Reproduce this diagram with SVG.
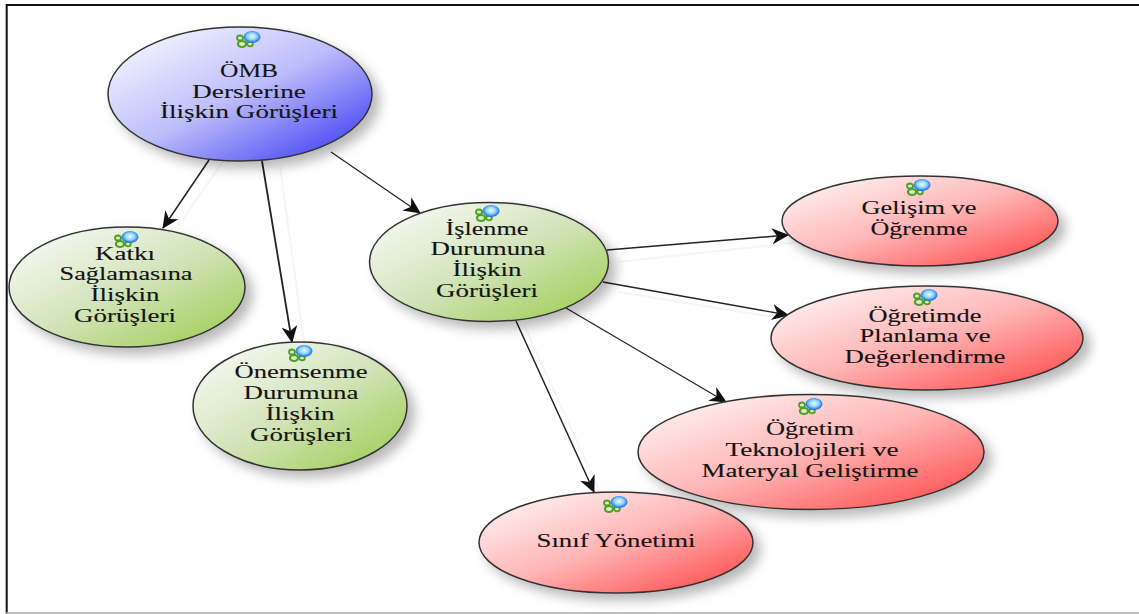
<svg xmlns="http://www.w3.org/2000/svg" width="1139" height="614" viewBox="0 0 1139 614">
<style>
text{font-family:"Liberation Serif","Times New Roman",serif;font-size:18px;fill:#141414;text-anchor:middle;stroke:#141414;stroke-width:.1}
.n{stroke:#333;stroke-width:1.5}
.c{stroke:#222;fill:none;marker-end:url(#a)}
.g{stroke:#f5f5f5;fill:none;stroke-width:2}
</style>
<defs>
<linearGradient id="b" x1="0.1" y1="0.1" x2="0.9" y2="0.9"><stop offset="0" stop-color="#f2f2ff"/><stop offset=".5" stop-color="#bdbdfb"/><stop offset="1" stop-color="#4a4af5"/></linearGradient>
<linearGradient id="v" x1="0.1" y1="0.1" x2="0.9" y2="0.9"><stop offset="0" stop-color="#f5f8f0"/><stop offset=".5" stop-color="#d3e4bb"/><stop offset="1" stop-color="#a5d05f"/></linearGradient>
<linearGradient id="r" x1="0.1" y1="0.1" x2="0.9" y2="0.9"><stop offset="0" stop-color="#ffeeee"/><stop offset=".5" stop-color="#ffb5b5"/><stop offset="1" stop-color="#ff5555"/></linearGradient>
<radialGradient id="o" cx=".5" cy=".45" r=".55"><stop offset="0" stop-color="#eefcff"/><stop offset=".5" stop-color="#8fd6ff"/><stop offset="1" stop-color="#0a5fe0"/></radialGradient>
<filter id="s" x="-15%" y="-15%" width="135%" height="135%"><feDropShadow dx="7" dy="7" stdDeviation="6" flood-color="#000" flood-opacity=".28"/></filter>
<marker id="a" viewBox="0 0 17 16" refX="16" refY="8" markerWidth="17" markerHeight="16" markerUnits="userSpaceOnUse" orient="auto"><path d="M0 0L17 8L0 16L5 8Z" fill="#111"/></marker>
<g id="i">
<ellipse cx="-5" cy="2" rx="3" ry="2.500" fill="#d8f0c0" stroke="#4f9e26" stroke-width="1.800"/>
<ellipse cx="-3" cy="8" rx="4" ry="3" fill="#d8f0c0" stroke="#4f9e26" stroke-width="2.200"/>
<ellipse cx="5" cy="8" rx="2.800" ry="2.300" fill="#d8f0c0" stroke="#4f9e26" stroke-width="1.800"/>
<ellipse cx="7" cy="1" rx="8.500" ry="6" fill="url(#o)"/>
</g>
</defs>
<rect width="1139" height="614" fill="#fff"/>
<path d="M6.700 614V5H1139" fill="none" stroke="#111" stroke-width="2"/>
<path d="M6 613H1139" stroke="#aaa" stroke-width="1.500"/>
<g id="connectors">
<path class="g" d="M224 160L178 226M280 166L304 342M618 262L800 242M618 292L780 318M524 325L600 492"/>
<path class="c" stroke-width="1.500" d="M209 160L163 228"/>
<path class="c" stroke-width="1.800" d="M262 161L292 342"/>
<path class="c" stroke-width="1.200" d="M331 152L420 213"/>
<path class="c" stroke-width="1.500" d="M607 250L788 235"/>
<path class="c" stroke-width="1.300" d="M603 282L788 315"/>
<path class="c" stroke-width="1.200" d="M566 308L726 402"/>
<path class="c" stroke-width="1.500" d="M516 321L594 492"/>
</g>
<g id="n1"><ellipse class="n" cx="240" cy="94" rx="132" ry="67" fill="url(#b)" filter="url(#s)"/><use href="#i" x="245" y="36"/>
<text x="249" y="77" textLength="58" lengthAdjust="spacingAndGlyphs">ÖMB</text><text x="249" y="98" textLength="114" lengthAdjust="spacingAndGlyphs">Derslerine</text><text x="249" y="118" textLength="178" lengthAdjust="spacingAndGlyphs">İlişkin Görüşleri</text></g>
<g id="n2"><ellipse class="n" cx="127" cy="287" rx="118" ry="60" fill="url(#v)" filter="url(#s)"/><use href="#i" x="123" y="236"/>
<text x="125" y="260" textLength="60" lengthAdjust="spacingAndGlyphs">Katkı</text><text x="126" y="280" textLength="133" lengthAdjust="spacingAndGlyphs">Sağlamasına</text><text x="125" y="301" textLength="69" lengthAdjust="spacingAndGlyphs">İlişkin</text><text x="125" y="322" textLength="102" lengthAdjust="spacingAndGlyphs">Görüşleri</text></g>
<g id="n3"><ellipse class="n" cx="300" cy="406" rx="107" ry="64" fill="url(#v)" filter="url(#s)"/><use href="#i" x="297" y="350"/>
<text x="301" y="378" textLength="133" lengthAdjust="spacingAndGlyphs">Önemsenme</text><text x="301" y="399" textLength="115" lengthAdjust="spacingAndGlyphs">Durumuna</text><text x="300" y="420" textLength="69" lengthAdjust="spacingAndGlyphs">İlişkin</text><text x="301" y="441" textLength="102" lengthAdjust="spacingAndGlyphs">Görüşleri</text></g>
<g id="n4"><ellipse class="n" cx="489" cy="262" rx="119.500" ry="59.500" fill="url(#v)" filter="url(#s)"/><use href="#i" x="484" y="210"/>
<text x="487" y="235" textLength="83" lengthAdjust="spacingAndGlyphs">İşlenme</text><text x="488" y="255" textLength="115" lengthAdjust="spacingAndGlyphs">Durumuna</text><text x="487" y="276" textLength="69" lengthAdjust="spacingAndGlyphs">İlişkin</text><text x="487" y="297" textLength="102" lengthAdjust="spacingAndGlyphs">Görüşleri</text></g>
<g id="n5"><ellipse class="n" cx="920" cy="221" rx="138" ry="45" fill="url(#r)" filter="url(#s)"/><use href="#i" x="915" y="184"/>
<text x="919" y="214" textLength="115" lengthAdjust="spacingAndGlyphs">Gelişim ve</text><text x="919" y="235" textLength="97" lengthAdjust="spacingAndGlyphs">Öğrenme</text></g>
<g id="n6"><ellipse class="n" cx="927" cy="338" rx="156" ry="52" fill="url(#r)" filter="url(#s)"/><use href="#i" x="922" y="294"/>
<text x="925" y="322" textLength="113" lengthAdjust="spacingAndGlyphs">Öğretimde</text><text x="925" y="342" textLength="131" lengthAdjust="spacingAndGlyphs">Planlama ve</text><text x="925" y="363" textLength="161" lengthAdjust="spacingAndGlyphs">Değerlendirme</text></g>
<g id="n7"><ellipse class="n" cx="811" cy="452" rx="173" ry="57.500" fill="url(#r)" filter="url(#s)"/><use href="#i" x="807" y="403"/>
<text x="810" y="435" textLength="88" lengthAdjust="spacingAndGlyphs">Öğretim</text><text x="812" y="456" textLength="173" lengthAdjust="spacingAndGlyphs">Teknolojileri ve</text><text x="810" y="477" textLength="217" lengthAdjust="spacingAndGlyphs">Materyal Geliştirme</text></g>
<g id="n8"><ellipse class="n" cx="616" cy="542.500" rx="137" ry="50.500" fill="url(#r)" filter="url(#s)"/><use href="#i" x="612" y="501"/>
<text x="616" y="547" textLength="159" lengthAdjust="spacingAndGlyphs">Sınıf Yönetimi</text></g>
</svg>
